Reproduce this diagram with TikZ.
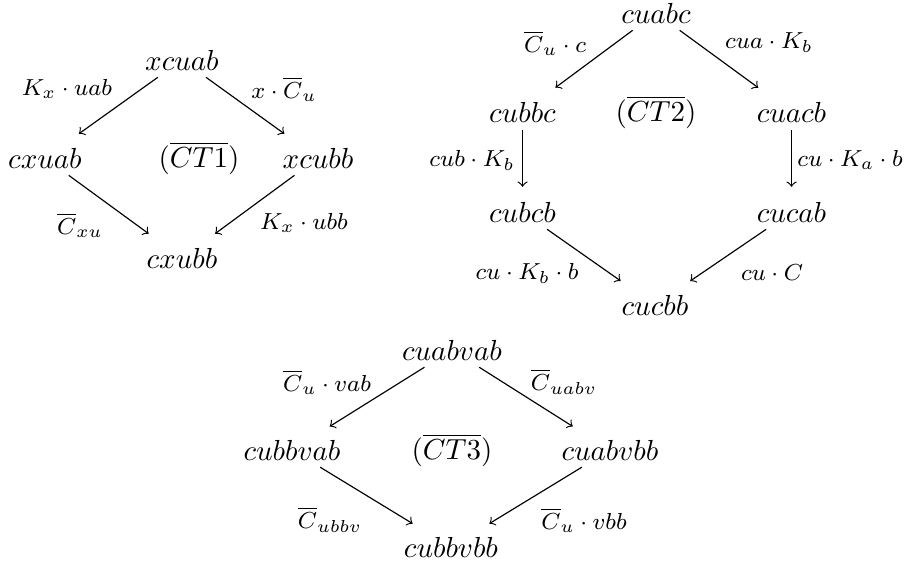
\documentclass[tikz,border=0pt]{standalone}
\begin{document}
\begin{tikzpicture}[x=0.3448pt,y=-0.3448pt,
  obj/.style={inner sep=2pt},
  lbl/.style={inner sep=0pt,font=\fontsize{8}{10}\selectfont},
  ar/.style={->,shorten >=4.6pt,shorten <=0.5pt},
  var/.style={->,shorten >=3pt,shorten <=0.6pt}]
\useasboundingbox (0,0) rectangle (905,568);
% Diagram 1
\node[obj] (a1) at (182,60) {$xcuab$};
\node[obj] (b1) at (45,158) {$cxuab$};
\node[obj] (c1) at (318,158) {$xcubb$};
\node[obj] (d1) at (182,258) {$cxubb$};
\node[obj] (t1) at (199,158) {$(\overline{CT1})$};
\draw[ar] (a1) -- (b1);
\draw[ar] (a1) -- (c1);
\draw[ar] (b1) -- (d1);
\draw[ar] (c1) -- (d1);
\node[lbl] (l11) at (67,89) {$K_x\cdot uab$};
\node[lbl] (l12) at (284,89) {$x\cdot\overline{C}_u$};
\node[lbl] (l13) at (80,225) {$\overline{C}_{xu}$};
\node[lbl] (l14) at (304,223) {$K_x\cdot ubb$};
% Diagram 2
\node[obj] (a2) at (656,13) {$cuabc$};
\node[obj] (b2) at (522.5,112) {$cubbc$};
\node[obj] (c2) at (791.5,112) {$cuacb$};
\node[obj] (t2) at (656,112) {$(\overline{CT2})$};
\node[obj] (d2) at (522.5,212) {$cubcb$};
\node[obj] (e2) at (791.5,212) {$cucab$};
\node[obj] (f2) at (655,305) {$cucbb$};
\draw[ar] (a2) -- (b2);
\draw[ar] (a2) -- (c2);
\draw[var] (b2) -- (d2);
\draw[var] (c2) -- (e2);
\draw[ar] (d2) -- (f2);
\draw[ar] (e2) -- (f2);
\node[lbl] (l21) at (555,43) {$\overline{C}_u\cdot c$};
\node[lbl] (l22) at (769,43) {$cua\cdot K_b$};
\node[lbl] (l23) at (472,160) {$cub\cdot K_b$};
\node[lbl] (l24) at (850,160) {$cu\cdot K_a\cdot b$};
\node[lbl] (l25) at (527,273) {$cu\cdot K_b\cdot b$};
\node[lbl] (l26) at (772,273) {$cu\cdot C$};
% Diagram 3
\node[obj] (a3) at (452,350) {$cuabvab$};
\node[obj] (b3) at (292,450) {$cubbvab$};
\node[obj] (c3) at (610,450) {$cuabvbb$};
\node[obj] (t3) at (452,450) {$(\overline{CT3})$};
\node[obj] (d3) at (451,547) {$cubbvbb$};
\draw[ar] (a3) -- (b3);
\draw[ar] (a3) -- (c3);
\draw[ar] (b3) -- (d3);
\draw[ar] (c3) -- (d3);
\node[lbl] (l31) at (327,382) {$\overline{C}_u\cdot vab$};
\node[lbl] (l32) at (564,382) {$\overline{C}_{uabv}$};
\node[lbl] (l33) at (330,520) {$\overline{C}_{ubbv}$};
\node[lbl] (l34) at (584,520) {$\overline{C}_u\cdot vbb$};
\end{tikzpicture}
\end{document}
